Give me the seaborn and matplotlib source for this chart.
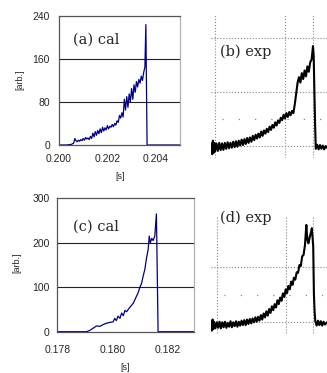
import matplotlib
matplotlib.use('Agg')
import matplotlib.pyplot as plt
import seaborn as sns

# (a) calculated, time in s
a_t = [0.2000, 0.2003, 0.2005, 0.2006, 0.20066, 0.2007, 0.20075, 0.2008, 0.20085, 0.2009,
       0.20095, 0.2010, 0.20105, 0.2011, 0.20115, 0.2012, 0.20125, 0.2013, 0.20135, 0.2014,
       0.20145, 0.2015, 0.20155, 0.2016, 0.20165, 0.2017, 0.20175, 0.2018, 0.20185, 0.2019,
       0.20195, 0.2020, 0.20205, 0.2021, 0.20215, 0.2022, 0.20225, 0.2023, 0.20235, 0.2024,
       0.20245, 0.2025, 0.20255, 0.2026, 0.20265, 0.2027, 0.20275, 0.2028, 0.20285, 0.2029,
       0.20295, 0.2030, 0.20305, 0.2031, 0.20315, 0.2032, 0.20325, 0.2033, 0.20335, 0.2034,
       0.20345, 0.2035, 0.20355, 0.20359, 0.20364, 0.2050]
a_val = [0, 0, 1, 3, 12, 8, 6, 9, 7, 10,
         8, 12, 9, 14, 11, 13, 10, 16, 12, 22,
         15, 25, 18, 27, 21, 30, 23, 33, 26, 32,
         28, 36, 30, 35, 33, 38, 34, 40, 37, 45,
         42, 55, 50, 60, 52, 85, 65, 90, 70, 95,
         80, 105, 85, 112, 98, 118, 108, 122, 115, 128,
         120, 135, 145, 224, 0, 0]

# (c) calculated
c_t = [0.1780, 0.17906, 0.17918, 0.1793, 0.17942, 0.17954, 0.17966, 0.17978, 0.1799, 0.18002,
       0.18008, 0.18014, 0.1802, 0.18027, 0.18033, 0.18039, 0.18045, 0.18051, 0.18063, 0.18075,
       0.18081, 0.18087, 0.18093, 0.18099, 0.18105, 0.18111, 0.18117, 0.18123, 0.18129, 0.18133,
       0.18137, 0.18142, 0.18147, 0.18153, 0.18159, 0.18165, 0.1830]
c_val = [0, 0, 3, 8, 13, 12, 16, 19, 21, 22,
         30, 25, 35, 30, 42, 36, 48, 45, 55, 64,
         72, 80, 88, 100, 108, 125, 140, 165, 185, 215,
         200, 210, 205, 215, 265, 0, 0]

# (b) experiment, arbitrary units
b_t = [-0.05, -0.04, -0.03, -0.02, -0.01, 0.00, 0.02, 0.04, 0.06, 0.08,
       0.10, 0.12, 0.14, 0.16, 0.18, 0.20, 0.22, 0.24, 0.26, 0.28,
       0.30, 0.32, 0.34, 0.36, 0.38, 0.40, 0.42, 0.44, 0.46, 0.48,
       0.50, 0.52, 0.54, 0.56, 0.58, 0.60, 0.62, 0.64, 0.66, 0.68,
       0.70, 0.72, 0.74, 0.76, 0.78, 0.80, 0.82, 0.84, 0.86, 0.88,
       0.90, 0.92, 0.94, 0.96, 0.98, 1.00, 1.02, 1.04, 1.06, 1.08,
       1.10, 1.12, 1.14, 1.16, 1.18, 1.20, 1.22, 1.24, 1.26, 1.28,
       1.30, 1.32, 1.34, 1.36, 1.38, 1.40, 1.41, 1.42, 1.43, 1.44,
       1.46, 1.48, 1.50, 1.52, 1.54, 1.56, 1.58, 1.60]
b_val = [0.10, -0.30, 0.20, -0.25, 0.12, -0.20, 0.10, -0.18, 0.12, -0.15,
         0.10, -0.14, 0.12, -0.10, 0.14, -0.08, 0.12, -0.06, 0.16, -0.04,
         0.18, -0.02, 0.20, 0.02, 0.24, 0.04, 0.26, 0.08, 0.30, 0.12,
         0.32, 0.16, 0.38, 0.22, 0.42, 0.28, 0.46, 0.32, 0.54, 0.38,
         0.58, 0.46, 0.64, 0.52, 0.72, 0.60, 0.78, 0.68, 0.88, 0.76,
         0.95, 0.86, 1.05, 0.96, 1.16, 1.02, 1.22, 1.08, 1.26, 1.14,
         1.30, 1.22, 1.55, 1.95, 2.35, 2.55, 2.35, 2.70, 2.48, 2.80,
         2.58, 2.95, 2.75, 3.10, 3.20, 3.70, 3.35, 2.00, 0.80, -0.10,
         0.05, -0.12, 0.04, -0.10, 0.02, -0.12, 0.00, -0.06]

# (d) experiment
d_t = [-0.08, -0.07, -0.06, -0.05, -0.04, -0.02, 0.00, 0.02, 0.04, 0.06,
       0.08, 0.10, 0.12, 0.14, 0.16, 0.18, 0.20, 0.22, 0.24, 0.26,
       0.28, 0.30, 0.32, 0.34, 0.36, 0.38, 0.40, 0.42, 0.44, 0.46,
       0.48, 0.50, 0.52, 0.54, 0.56, 0.58, 0.60, 0.62, 0.64, 0.66,
       0.68, 0.70, 0.72, 0.74, 0.76, 0.78, 0.80, 0.82, 0.84, 0.86,
       0.88, 0.90, 0.92, 0.94, 0.96, 0.98, 1.00, 1.02, 1.04, 1.06,
       1.08, 1.10, 1.12, 1.14, 1.16, 1.18, 1.20, 1.22, 1.24, 1.26,
       1.28, 1.30, 1.315, 1.33, 1.35, 1.37, 1.38, 1.39, 1.40, 1.41,
       1.42, 1.43, 1.45, 1.47, 1.49, 1.51, 1.53, 1.55, 1.57, 1.60]
d_val = [0.05, -0.30, 0.10, -0.25, 0.02, -0.22, 0.00, -0.20, 0.02, -0.22,
         0.00, -0.18, 0.02, -0.20, -0.02, -0.16, 0.04, -0.18, 0.00, -0.14,
         0.04, -0.16, 0.02, -0.12, 0.06, -0.10, 0.08, -0.10, 0.10, -0.06,
         0.12, -0.04, 0.14, 0.00, 0.18, 0.02, 0.20, 0.06, 0.26, 0.10,
         0.32, 0.18, 0.40, 0.24, 0.48, 0.34, 0.58, 0.44, 0.66, 0.54,
         0.80, 0.66, 0.90, 0.78, 1.05, 0.92, 1.20, 1.06, 1.32, 1.20,
         1.48, 1.36, 1.62, 1.55, 1.82, 1.80, 2.08, 2.05, 2.40, 2.45,
         2.80, 3.54, 3.00, 2.87, 3.10, 3.30, 3.42, 3.10, 2.75, 1.05,
         0.40, 0.05, -0.12, 0.06, -0.10, 0.04, -0.12, 0.02, -0.08, 0.00]

sns.set_style('white')
plt.rcParams['font.family'] = ['Liberation Sans', 'DejaVu Sans']

fig = plt.figure(figsize=(3.27, 3.73), dpi=100)

navy = '#000080'
serif = 'DejaVu Serif'


def cal_panel(rect, t, v, xlim, ylim, yticks, xticks, xlabels, label, lab_xy,
              ylab_xy, xlab_xy, ypad, xpad):
    ax = fig.add_axes(rect)
    sns.lineplot(x=t, y=v, ax=ax, color=navy, lw=0.9, sort=False, estimator=None)
    ax.set_xlim(*xlim)
    ax.set_ylim(*ylim)
    ax.set_yticks(yticks)
    ax.set_yticklabels([str(y) for y in yticks])
    ax.set_xticks(xticks)
    ax.set_xticklabels(xlabels)
    for y in yticks[1:-1]:
        ax.axhline(y, color='#222222', lw=0.8, zorder=0)
    for s in ['top', 'left']:
        ax.spines[s].set_color('#555555')
    ax.spines['right'].set_color('#b0b0b0')
    ax.spines['bottom'].set_color('#555555')
    for s in ax.spines.values():
        s.set_linewidth(0.9)
    ax.tick_params(axis='y', length=0, pad=ypad, labelsize=7.5)
    ax.tick_params(axis='x', direction='in', length=3, color='#777777',
                   pad=xpad, labelsize=7.5)
    ax.set_ylabel('[arb.]', fontsize=6.5)
    ax.set_xlabel('[s]', fontsize=6.5)
    ax.yaxis.set_label_coords(*ylab_xy)
    ax.xaxis.set_label_coords(*xlab_xy)
    ax.text(lab_xy[0], lab_xy[1], label, transform=ax.transAxes, ha='left',
            va='center', fontsize=10.5, family=serif)
    return ax


def exp_panel(rect, t, v, xlim, ylim, vtop, vbot, hlines, label, lab_xy):
    ax = fig.add_axes(rect)
    ax.set_xlim(*xlim)
    ax.set_ylim(*ylim)
    ax.axis('off')
    for x in [0, 1, 1.4]:
        ax.plot([x, x], [vbot, vtop], color='#888888', lw=0.8, ls=':')
    for y in hlines:
        ax.plot([xlim[0], xlim[1]], [y, y], color='#888888', lw=0.8, ls=':')
    ax.plot([0.1, xlim[1]], [1, 1], color='#888888', lw=0.9, dashes=(1, 12))
    sns.lineplot(x=t, y=v, ax=ax, color='black', lw=1.5, sort=False, estimator=None)
    ax.text(lab_xy[0], lab_xy[1], label, transform=ax.transAxes, ha='left',
            va='center', fontsize=10.5, family=serif)
    return ax


cal_panel([0.1804, 0.6113, 0.370, 0.3458], a_t, a_val, (0.200, 0.205), (0, 240),
          [0, 80, 160, 240], [0.200, 0.202, 0.204], ['0.200', '0.202', '0.204'],
          '(a) cal', (0.116, 0.814), (-0.29, 0.504), (0.504, -0.21), 6.5, 6.5)

cal_panel([0.1752, 0.1107, 0.418, 0.3576], c_t, c_val, (0.178, 0.18295), (0, 300),
          [0, 100, 200, 300], [0.178, 0.180, 0.182], ['0.178', '0.180', '0.182'],
          '(c) cal', (0.115, 0.785), (-0.265, 0.515), (0.495, -0.235), 5.5, 9.5)

exp_panel([0.6453, 0.5764, 0.3547, 0.3834], b_t, b_val, (-0.057, 1.6), (-0.44, 4.85),
          4.85, -0.44, [0, 2, 4], '(b) exp', (0.078, 0.741))

exp_panel([0.6453, 0.1019, 0.3547, 0.3298], d_t, d_val, (-0.083, 1.6), (-0.461, 4.01),
          3.84, -0.4, [0, 2], '(d) exp', (0.078, 0.951))

fig.savefig('out.png', dpi=100)
